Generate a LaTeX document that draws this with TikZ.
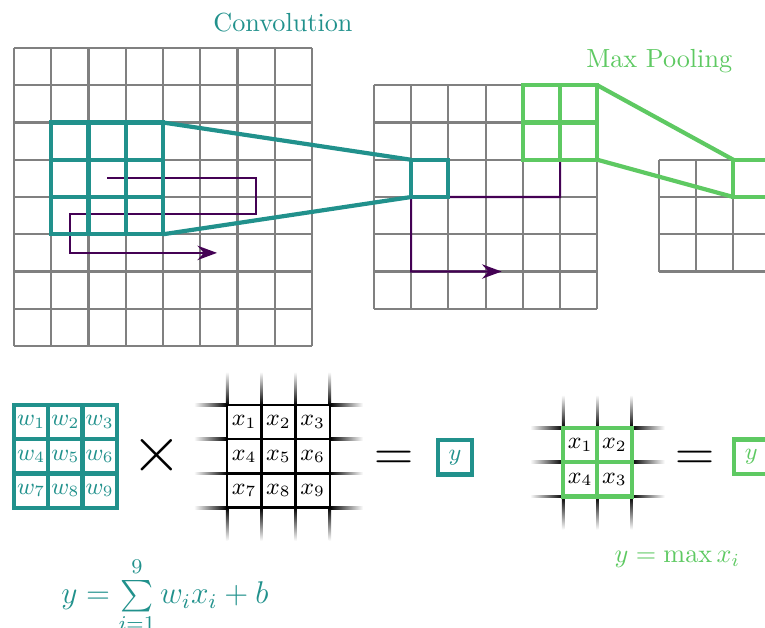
\documentclass[tikz,border=0pt]{standalone}
\usepackage{amsmath}
\usepackage{tikz}
\usetikzlibrary{arrows.meta, positioning, backgrounds, calc}
\usepackage{xcolor}
\definecolor{convcol}{HTML}{21918C}
\definecolor{poolcol}{HTML}{5EC962}
\definecolor{pathcol}{HTML}{440154}
\tikzstyle{gridline} = [draw=gray, line width=0.8pt, step=0.5cm]
\tikzstyle{convline} = [draw=convcol, line width=1.6pt]
\tikzstyle{poolline} = [draw=poolcol, line width=1.6pt]
\tikzstyle{scan} = [draw=pathcol, line width=0.8pt, -{Stealth[length=7.5pt, width=5.5pt, inset=2.5pt]}]
\tikzstyle{win} = [rectangle, inner sep=0pt, outer sep=0pt]
\tikzstyle{cell} = [rectangle, inner sep=0pt, outer sep=0pt, minimum size=0.46cm, font=\small]

\begin{document}
\begin{tikzpicture}[x=0.5cm, y=0.5cm]
  \useasboundingbox (-0.376,1.289) rectangle (20.16,-15.543);
  \clip (-0.376,1.289) rectangle (20.16,-15.543);

  \node[anchor=base, text=convcol] (convtitle) at (7.22,0.43) {Convolution};
  \node[anchor=base, text=poolcol] (pooltitle) at (17.32,-0.53) {Max Pooling};

  % sliding windows and their outputs
  \node[win, convline, minimum size=1.5cm] (kern) at (2.5,-3.5) {};
  \node[win, convline, minimum size=0.5cm] (convout) at (11.16,-3.5) {};
  \node[win, poolline, minimum size=1cm] (pool) at (14.66,-2) {};
  \node[win, poolline, minimum size=0.5cm] (poolout) at (19.81,-3.5) {};
  \draw[convline, step=0.5cm] (kern.south west) grid (kern.north east);
  \draw[poolline, step=0.5cm, shift={(pool.south west)}] (0,0) grid (2,2);

  \draw[convline] (kern.north east) -- (convout.north west);
  \draw[convline] (kern.south east) -- (convout.south west);
  \draw[poolline] (pool.north east) -- (poolout.north west);
  \draw[poolline] (pool.south east) -- (poolout.south west);

  \begin{scope}[on background layer]
    % feature maps
    \draw[gridline] (0,0) grid (8,-8);
    \draw[gridline, shift={(9.66,-1)}] (0,0) grid (6,-6);
    \draw[gridline, shift={(17.31,-3)}] (0,0) grid (3,-3);
    % scan order
    \draw[scan] (kern.center) -- ++(4,0) -- ++(0,-0.95) -- ++(-5,0) -- ++(0,-1.05) -- ++(3.95,0);
    \draw[scan] (pool.center) -- ++(0,-2) -- (convout.south west) -- ++(0,-2) -- ++(2.43,0);
  \end{scope}

  % convolution example
  \foreach \k in {0,...,3} {
    \shade[left color=white, right color=black] (4.83,-9.615-0.92*\k) rectangle (5.72,-9.545-0.92*\k);
    \shade[left color=black, right color=white] (8.48,-9.615-0.92*\k) rectangle (9.37,-9.545-0.92*\k);
    \shade[top color=white, bottom color=black] (5.685+0.92*\k,-8.69) rectangle (5.755+0.92*\k,-9.58);
    \shade[top color=black, bottom color=white] (5.685+0.92*\k,-12.34) rectangle (5.755+0.92*\k,-13.23);
  }
  \foreach \n in {1,...,9} {
    \pgfmathtruncatemacro\c{mod(\n-1,3)}
    \pgfmathtruncatemacro\r{(\n-1)/3}
    \node[cell, convline, text=convcol] (w\n) at (0.46+0.92*\c, -10.04-0.92*\r) {$w_{\n}$};
    \node[cell, draw=black, line width=1pt] (x\n) at (6.18+0.92*\c, -10.04-0.92*\r) {$x_{\n}$};
  }
  \node[font=\Huge] (times) at (3.84,-10.94) {$\times$};
  \node[font=\huge] (eqconv) at (10.19,-11.07) {$=$};
  \node[cell, convline, text=convcol] (yconv) at (11.84,-10.99) {$y$};
  \node[anchor=base, text=convcol, font=\large] (sumeq) at (4.05,-14.92) {$y = \sum\limits_{i=1}^{9} w_i x_i + b$};

  % pooling example
  \foreach \k in {0,...,2} {
    \shade[left color=white, right color=black] (13.85,-10.235-0.92*\k) rectangle (14.74,-10.165-0.92*\k);
    \shade[left color=black, right color=white] (16.58,-10.235-0.92*\k) rectangle (17.47,-10.165-0.92*\k);
    \shade[top color=white, bottom color=black] (14.705+0.92*\k,-9.31) rectangle (14.775+0.92*\k,-10.2);
    \shade[top color=black, bottom color=white] (14.705+0.92*\k,-12.04) rectangle (14.775+0.92*\k,-12.93);
  }
  \node[cell, poolline] (p1) at (15.2,-10.66) {$x_1$};
  \node[cell, poolline] (p2) at (16.12,-10.66) {$x_2$};
  \node[cell, poolline] (p3) at (15.2,-11.58) {$x_4$};
  \node[cell, poolline] (p4) at (16.12,-11.58) {$x_3$};
  \node[font=\huge] (eqpool) at (18.27,-11.07) {$=$};
  \node[cell, poolline, text=poolcol] (ypool) at (19.79,-10.97) {$y$};
  \node[text=poolcol] (maxeq) at (17.81,-13.74) {$y = \max x_i$};
\end{tikzpicture}
\end{document}
